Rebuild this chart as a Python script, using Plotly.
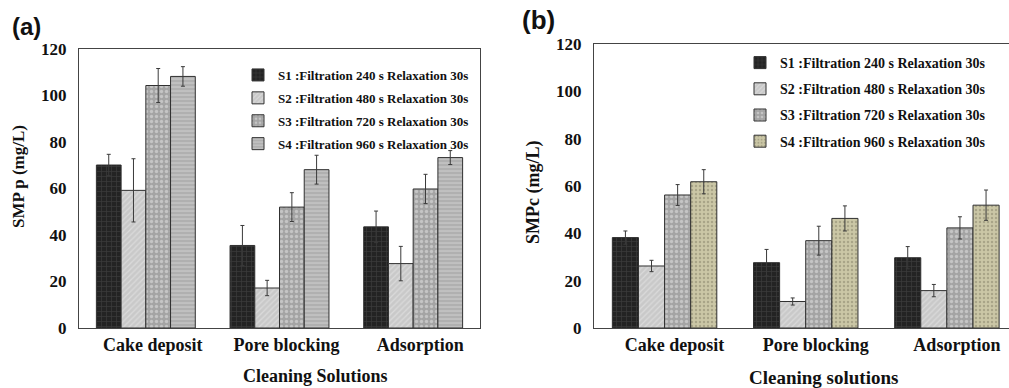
import plotly.graph_objects as go

categories = ["Cake deposit", "Pore blocking", "Adsorption"]
series_names = [
    "S1 :Filtration 240 s Relaxation 30s",
    "S2 :Filtration 480 s Relaxation 30s",
    "S3 :Filtration 720 s Relaxation 30s",
    "S4 :Filtration 960 s Relaxation 30s",
]

# Panel (a): SMP p (mg/L)
a_s1 = [70.1, 35.5, 43.5]
a_s2 = [59.2, 17.2, 27.7]
a_s3 = [104.3, 52.0, 59.8]
a_s4 = [108.2, 68.1, 73.3]
a_e1 = [4.6, 8.6, 6.8]
a_e2 = [13.6, 3.3, 7.4]
a_e3 = [7.3, 6.2, 6.3]
a_e4 = [4.2, 6.2, 3.0]

# Panel (b): SMPc (mg/L)
b_s1 = [38.2, 27.6, 29.7]
b_s2 = [26.2, 11.2, 15.8]
b_s3 = [56.2, 36.9, 42.3]
b_s4 = [61.8, 46.3, 51.9]
b_e1 = [2.8, 5.6, 4.7]
b_e2 = [2.4, 1.5, 2.6]
b_e3 = [4.4, 6.1, 4.7]
b_e4 = [5.1, 5.3, 6.4]

W, H = 1009, 388
SERIF = "Liberation Serif"

styles_a = [
    dict(color="#232323", pattern=dict(shape="+", fgcolor="#555555", size=5, solidity=0.25, fillmode="overlay")),
    dict(color="#c9c9c9", pattern=dict(shape="/", fgcolor="#ececec", size=4, solidity=0.3, fillmode="overlay")),
    dict(color="#a4a4a4", pattern=dict(shape=".", fgcolor="#e6e6e6", size=5, solidity=0.35, fillmode="overlay")),
    dict(color="#b0b0b0", pattern=dict(shape="-", fgcolor="#e2e2e2", size=4, solidity=0.3, fillmode="overlay")),
]
styles_b = [
    styles_a[0], styles_a[1], styles_a[2],
    dict(color="#cbc7a6", pattern=dict(shape=".", fgcolor="#85826a", size=4, solidity=0.3, fillmode="overlay")),
]

fig = go.Figure()

panel_a = [(a_s1, a_e1), (a_s2, a_e2), (a_s3, a_e3), (a_s4, a_e4)]
panel_b = [(b_s1, b_e1), (b_s2, b_e2), (b_s3, b_e3), (b_s4, b_e4)]

for i, (vals, errs) in enumerate(panel_a):
    fig.add_trace(go.Bar(
        x=categories, y=vals, name=series_names[i],
        marker=dict(**styles_a[i], line=dict(color="#303030", width=1)),
        error_y=dict(type="data", array=errs, color="#3a3a3a", thickness=1, width=2),
        xaxis="x", yaxis="y", legend="legend", legendgroup=f"a{i}",
    ))
for i, (vals, errs) in enumerate(panel_b):
    fig.add_trace(go.Bar(
        x=categories, y=vals, name=series_names[i],
        marker=dict(**styles_b[i], line=dict(color="#303030", width=1)),
        error_y=dict(type="data", array=errs, color="#3a3a3a", thickness=1, width=2),
        xaxis="x2", yaxis="y2", legend="legend2", legendgroup=f"b{i}",
    ))

def px_x(p):
    return p / W

def px_y(p):
    return (H - p) / H

tick_font = dict(family=SERIF, size=18, color="#111", weight="bold")

common_x = dict(
    showline=True, linecolor="#444", linewidth=1, mirror=True,
    showgrid=False, ticks="", tickfont=tick_font, automargin=False,
    ticklabelstandoff=0, fixedrange=True,
)
common_y = dict(
    range=[0, 120], dtick=20, showline=True, linecolor="#444", linewidth=1,
    showgrid=False, zeroline=False, ticks="", automargin=False,
    tickfont=dict(family=SERIF, size=17, color="#111", weight="bold"),
    ticklabelstandoff=8,
)

def title_ann(text, x, y, size, angle=0):
    return dict(text=text, x=px_x(x), y=px_y(y), xref="paper", yref="paper",
                xanchor="center", yanchor="middle", showarrow=False, textangle=angle,
                font=dict(family=SERIF, size=size, color="#111", weight="bold"))

fig.update_layout(
    width=W, height=H,
    margin=dict(l=0, r=0, t=0, b=0),
    paper_bgcolor="white", plot_bgcolor="white",
    barmode="group", bargap=0.26, bargroupgap=0.0,
    xaxis=dict(**common_x, domain=[px_x(79), px_x(480)], anchor="y", ticklabelshift=7),
    yaxis=dict(**common_y, domain=[px_y(328), px_y(49)], anchor="x", mirror=True),
    xaxis2=dict(**common_x, domain=[px_x(594), 1.0], anchor="y2",
                range=[-0.5, 2.44], ticklabelshift=10),
    yaxis2=dict(**common_y, domain=[px_y(328), px_y(44)], anchor="x2", mirror=False),
    legend=dict(
        x=px_x(238), y=px_y(60), xanchor="left", yanchor="top",
        bgcolor="rgba(0,0,0,0)", borderwidth=0,
        font=dict(family=SERIF, size=13, color="#111", weight="bold"),
        traceorder="grouped", tracegroupgap=3, itemclick=False,
    ),
    legend2=dict(
        x=px_x(740), y=px_y(47), xanchor="left", yanchor="top",
        bgcolor="rgba(0,0,0,0)", borderwidth=0,
        font=dict(family=SERIF, size=14, color="#111", weight="bold"),
        traceorder="grouped", tracegroupgap=5, itemclick=False,
    ),
    showlegend=True,
    annotations=[
        title_ann("Cleaning Solutions", 315, 376, 18),
        title_ann("Cleaning solutions", 823, 377, 19),
        title_ann("SMP p (mg/L)", 18, 177, 17, -90),
        title_ann("SMPc (mg/L)", 533, 193, 18, -90),
        dict(text="(a)", x=px_x(10), y=px_y(11), xref="paper", yref="paper",
             xanchor="left", yanchor="top", showarrow=False,
             font=dict(family="Liberation Sans", size=24, color="#111", weight="bold")),
        dict(text="(b)", x=px_x(520), y=px_y(3), xref="paper", yref="paper",
             xanchor="left", yanchor="top", showarrow=False,
             font=dict(family="Liberation Sans", size=26, color="#111", weight="bold")),
    ],
)

fig.write_html("out.html")
